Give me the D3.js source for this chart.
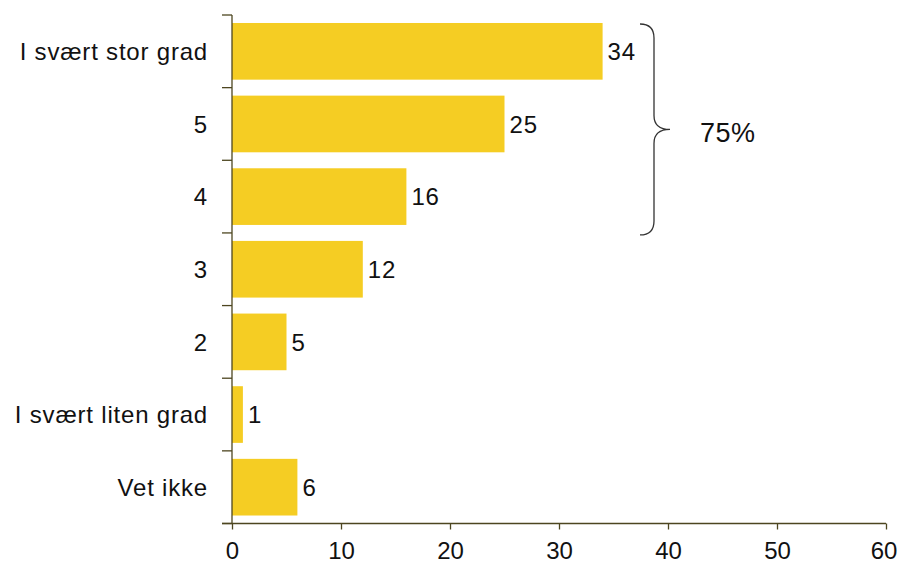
<!DOCTYPE html>
<html>
<head>
<meta charset="utf-8">
<script src="https://cdn.jsdelivr.net/npm/d3@7"></script>
<style>
  html, body { margin: 0; padding: 0; background: #fff; }
  svg { display: block; font-family: Arial, "Liberation Sans", sans-serif; }
</style>
</head>
<body>
<svg id="chart" width="899" height="565"></svg>
<script>
// Response categories (top to bottom) and their share in percent
const categories = ["I svært stor grad", "5", "4", "3", "2", "I svært liten grad", "Vet ikke"];
const values = [34, 25, 16, 12, 5, 1, 6];
const xTicks = [0, 10, 20, 30, 40, 50, 60];
const bracketLabel = "75%";
const bracketGroup = ["I svært stor grad", "5", "4"];

const svg = d3.select("#chart");
const barColor = "#F5CD23";
const axisColor = "#4d4620";
const textColor = "#111";
const fontSize = 24;
const spacing = 0.8;

const x = d3.scaleLinear().domain([0, 60]).range([232, 886]);
const y = d3.scaleBand().domain(categories).range([15, 523.5])
  .paddingInner(0.22).paddingOuter(0.11);

// Bars
svg.append("g").selectAll("rect").data(values).join("rect")
  .attr("x", x(0))
  .attr("y", (d, i) => y(categories[i]))
  .attr("width", d => x(d) - x(0))
  .attr("height", y.bandwidth())
  .attr("fill", barColor);

// Value labels
svg.append("g").selectAll("text").data(values).join("text")
  .attr("x", d => x(d) + 5)
  .attr("y", (d, i) => y(categories[i]) + y.bandwidth() / 2)
  .attr("dy", "0.36em")
  .attr("font-size", fontSize)
  .attr("letter-spacing", spacing)
  .attr("fill", textColor)
  .text(d => d);

// Y axis: line plus ticks on band boundaries
const step = y.step();
const boundaries = d3.range(categories.length + 1).map(i => y.range()[0] + i * step);
const yAxis = svg.append("g");
yAxis.append("line")
  .attr("x1", x(0)).attr("x2", x(0))
  .attr("y1", boundaries[0]).attr("y2", boundaries[boundaries.length - 1])
  .attr("stroke", axisColor).attr("stroke-width", 1.3);
yAxis.selectAll("line.tick").data(boundaries).join("line")
  .attr("class", "tick")
  .attr("x1", x(0) - 10).attr("x2", x(0))
  .attr("y1", d => d).attr("y2", d => d)
  .attr("stroke", axisColor).attr("stroke-width", 1.3);
yAxis.selectAll("text").data(categories).join("text")
  .attr("x", 208)
  .attr("y", d => y(d) + y.bandwidth() / 2)
  .attr("dy", "0.36em")
  .attr("text-anchor", "end")
  .attr("font-size", fontSize)
  .attr("letter-spacing", spacing)
  .attr("fill", textColor)
  .text(d => d);

// X axis
const xAxisY = boundaries[boundaries.length - 1];
const xAxis = svg.append("g").attr("transform", `translate(0,${xAxisY})`)
  .call(d3.axisBottom(x).tickValues(xTicks).tickSize(6).tickSizeOuter(0));
xAxis.select(".domain").remove();
xAxis.append("line")
  .attr("x1", x(0) - 10).attr("x2", x(60))
  .attr("stroke", axisColor).attr("stroke-width", 1.3);
xAxis.selectAll(".tick line").attr("stroke", axisColor).attr("stroke-width", 1.3);
xAxis.selectAll(".tick text")
  .attr("y", 35.5)
  .attr("dy", 0)
  .attr("dx", (d, i) => i === xTicks.length - 1 ? -2.5 : 0)
  .attr("font-size", fontSize)
  .attr("font-family", "Arial, 'Liberation Sans', sans-serif")
  .attr("fill", textColor);

// Curly brace grouping the top three answers
const bTop = y(bracketGroup[0]) + 1;
const bBot = y(bracketGroup[bracketGroup.length - 1]) + y.bandwidth() + 10;
const bMid = (bTop + bBot) / 2;
const bx0 = 640, bx1 = 654, bx2 = 670;
const bracePath = d3.path();
bracePath.moveTo(bx0, bTop);
bracePath.quadraticCurveTo(bx1, bTop, bx1, bTop + 14);
bracePath.lineTo(bx1, bMid - 14);
bracePath.quadraticCurveTo(bx1, bMid, bx2, bMid);
bracePath.quadraticCurveTo(bx1, bMid, bx1, bMid + 14);
bracePath.lineTo(bx1, bBot - 14);
bracePath.quadraticCurveTo(bx1, bBot, bx0, bBot);
svg.append("path")
  .attr("d", bracePath.toString())
  .attr("fill", "none")
  .attr("stroke", "#333")
  .attr("stroke-width", 1.3);

svg.append("text")
  .attr("x", 700)
  .attr("y", bMid + 3)
  .attr("dy", "0.36em")
  .attr("font-size", 27)
  .attr("letter-spacing", 0.5)
  .attr("fill", textColor)
  .text(bracketLabel);
</script>
</body>
</html>
